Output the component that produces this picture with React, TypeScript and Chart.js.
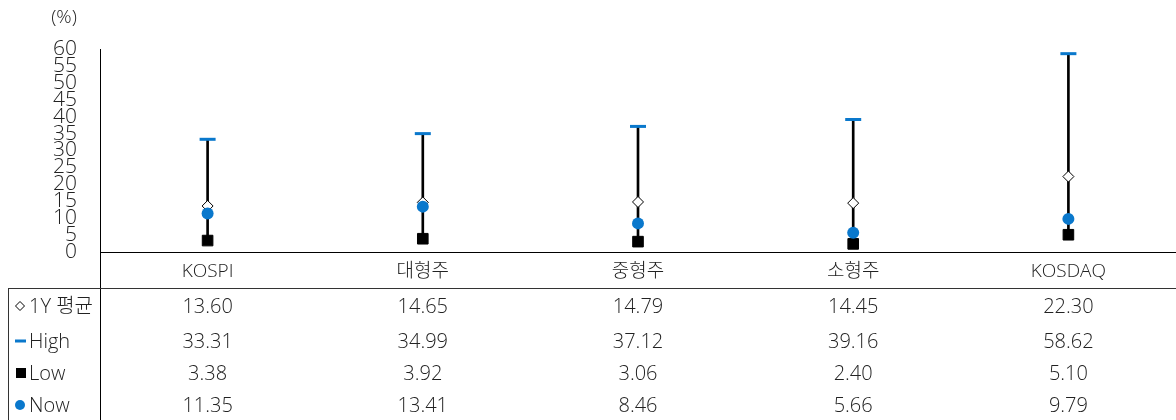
import React, { useEffect, useRef } from 'react';
import { Chart, registerables } from 'chart.js';

Chart.register(...registerables);

const categories = ['KOSPI', '대형주', '중형주', '소형주', 'KOSDAQ'];
const avg1Y = [13.6, 14.65, 14.79, 14.45, 22.3];
const high = [33.31, 34.99, 37.12, 39.16, 58.62];
const low = [3.38, 3.92, 3.06, 2.4, 5.1];
const now = [11.35, 13.41, 8.46, 5.66, 9.79];
const rowLabels = ['1Y 평균', 'High', 'Low', 'Now'];
const unitLabel = '(%)';

const BLUE = '#0a78cc';
const FONT = '"Open Sans", "Noto Sans CJK KR", sans-serif';
const rowYs = [307, 342, 374, 406];

const tablePlugin = {
  id: 'tablePlugin',
  afterDraw(chart: any) {
    const ctx = chart.ctx;
    const area = chart.chartArea;
    const xs = chart.scales.x;
    ctx.save();
    ctx.strokeStyle = '#000';
    ctx.lineWidth = 1;
    ctx.beginPath();
    ctx.moveTo(Math.round(area.left) + 0.5, area.bottom);
    ctx.lineTo(Math.round(area.left) + 0.5, 420);
    ctx.moveTo(area.left, Math.round(area.bottom) + 0.5);
    ctx.lineTo(1176, Math.round(area.bottom) + 0.5);
    ctx.stroke();
    ctx.strokeStyle = '#333';
    ctx.beginPath();
    ctx.moveTo(8, 288.5);
    ctx.lineTo(1176, 288.5);
    ctx.moveTo(8.5, 288);
    ctx.lineTo(8.5, 420);
    ctx.stroke();

    ctx.fillStyle = '#222';
    ctx.font = `300 19px ${FONT}`;
    ctx.textAlign = 'center';
    ctx.textBaseline = 'middle';
    ctx.fillText(unitLabel, 64, 18);

    const series = [avg1Y, high, low, now];
    ctx.font = `300 20px ${FONT}`;
    series.forEach((arr, r) => {
      const y = rowYs[r];
      ctx.textAlign = 'center';
      ctx.fillStyle = '#222';
      arr.forEach((v, i) => {
        ctx.fillText(v.toFixed(2), xs.getPixelForValue(i), y);
      });
      ctx.textAlign = 'left';
      ctx.fillText(rowLabels[r], 29, y);
      const my = y - 1;
      if (r === 0) {
        ctx.strokeStyle = '#000';
        ctx.fillStyle = '#fff';
        ctx.lineWidth = 1;
        ctx.beginPath();
        ctx.moveTo(20, my - 4.5);
        ctx.lineTo(24.5, my);
        ctx.lineTo(20, my + 4.5);
        ctx.lineTo(15.5, my);
        ctx.closePath();
        ctx.fill();
        ctx.stroke();
      } else if (r === 1) {
        ctx.fillStyle = BLUE;
        ctx.fillRect(15, my - 1.5, 11, 3);
      } else if (r === 2) {
        ctx.fillStyle = '#000';
        ctx.fillRect(16, my - 5, 10, 10);
      } else {
        ctx.fillStyle = BLUE;
        ctx.beginPath();
        ctx.arc(20, my, 5, 0, Math.PI * 2);
        ctx.fill();
      }
    });
    ctx.restore();
  },
};

export default function App() {
  const ref = useRef<HTMLCanvasElement>(null);
  useEffect(() => {
    if (!ref.current) return;
    const chart = new Chart(ref.current, {
      type: 'bar',
      data: {
        labels: categories,
        datasets: [
          {
            type: 'bar',
            label: 'range',
            data: low.map((l, i) => [l, high[i]]) as any,
            backgroundColor: '#000',
            barThickness: 2,
            borderWidth: 0,
            order: 10,
          },
          {
            type: 'line',
            label: 'High',
            data: high,
            showLine: false,
            pointStyle: 'line',
            pointRadius: 8,
            borderColor: BLUE,
            pointBorderColor: BLUE,
            pointBorderWidth: 3,
            order: 4,
          },
          {
            type: 'line',
            label: 'Low',
            data: low,
            showLine: false,
            pointStyle: 'rect',
            pointRadius: 7.5,
            pointBackgroundColor: '#000',
            pointBorderColor: '#000',
            pointBorderWidth: 1,
            order: 3,
          },
          {
            type: 'line',
            label: '1Y 평균',
            data: avg1Y,
            showLine: false,
            pointStyle: 'rectRot',
            pointRadius: 5.5,
            pointBackgroundColor: '#fff',
            pointBorderColor: '#000',
            pointBorderWidth: 1,
            order: 2,
          },
          {
            type: 'line',
            label: 'Now',
            data: now,
            showLine: false,
            pointStyle: 'circle',
            pointRadius: 6,
            pointBackgroundColor: BLUE,
            pointBorderColor: BLUE,
            pointBorderWidth: 0,
            order: 1,
          },
        ],
      },
      options: {
        animation: false,
        responsive: false,
        maintainAspectRatio: false,
        layout: { autoPadding: false, padding: { top: 49, bottom: 132, left: 0, right: 0 } },
        plugins: { legend: { display: false }, tooltip: { enabled: false } },
        scales: {
          x: {
            grid: { display: false, drawTicks: false },
            border: { display: false },
            ticks: {
              color: '#222',
              padding: 8,
              font: { family: FONT, size: 19, weight: '300' as any },
            },
            afterFit: (s: any) => {
              s.height = 36;
              s.paddingLeft = 0;
              s.paddingRight = 0;
            },
          },
          y: {
            min: 0,
            max: 60,
            grid: { display: false, drawTicks: false },
            border: { display: true, color: '#000', width: 1 },
            ticks: {
              stepSize: 5,
              autoSkip: false,
              padding: 23,
              color: '#222',
              font: { family: FONT, size: 21, weight: '300' as any },
            },
            afterFit: (s: any) => {
              s.width = 100;
              s.paddingTop = 0;
              s.paddingBottom = 0;
            },
          },
        },
      },
      plugins: [tablePlugin],
    });
    return () => chart.destroy();
  }, []);
  return (
    <div style={{ position: 'fixed', left: 0, top: 0, width: 1176, height: 420, background: '#fff' }}>
      <canvas ref={ref} width={1176} height={420} />
    </div>
  );
}
